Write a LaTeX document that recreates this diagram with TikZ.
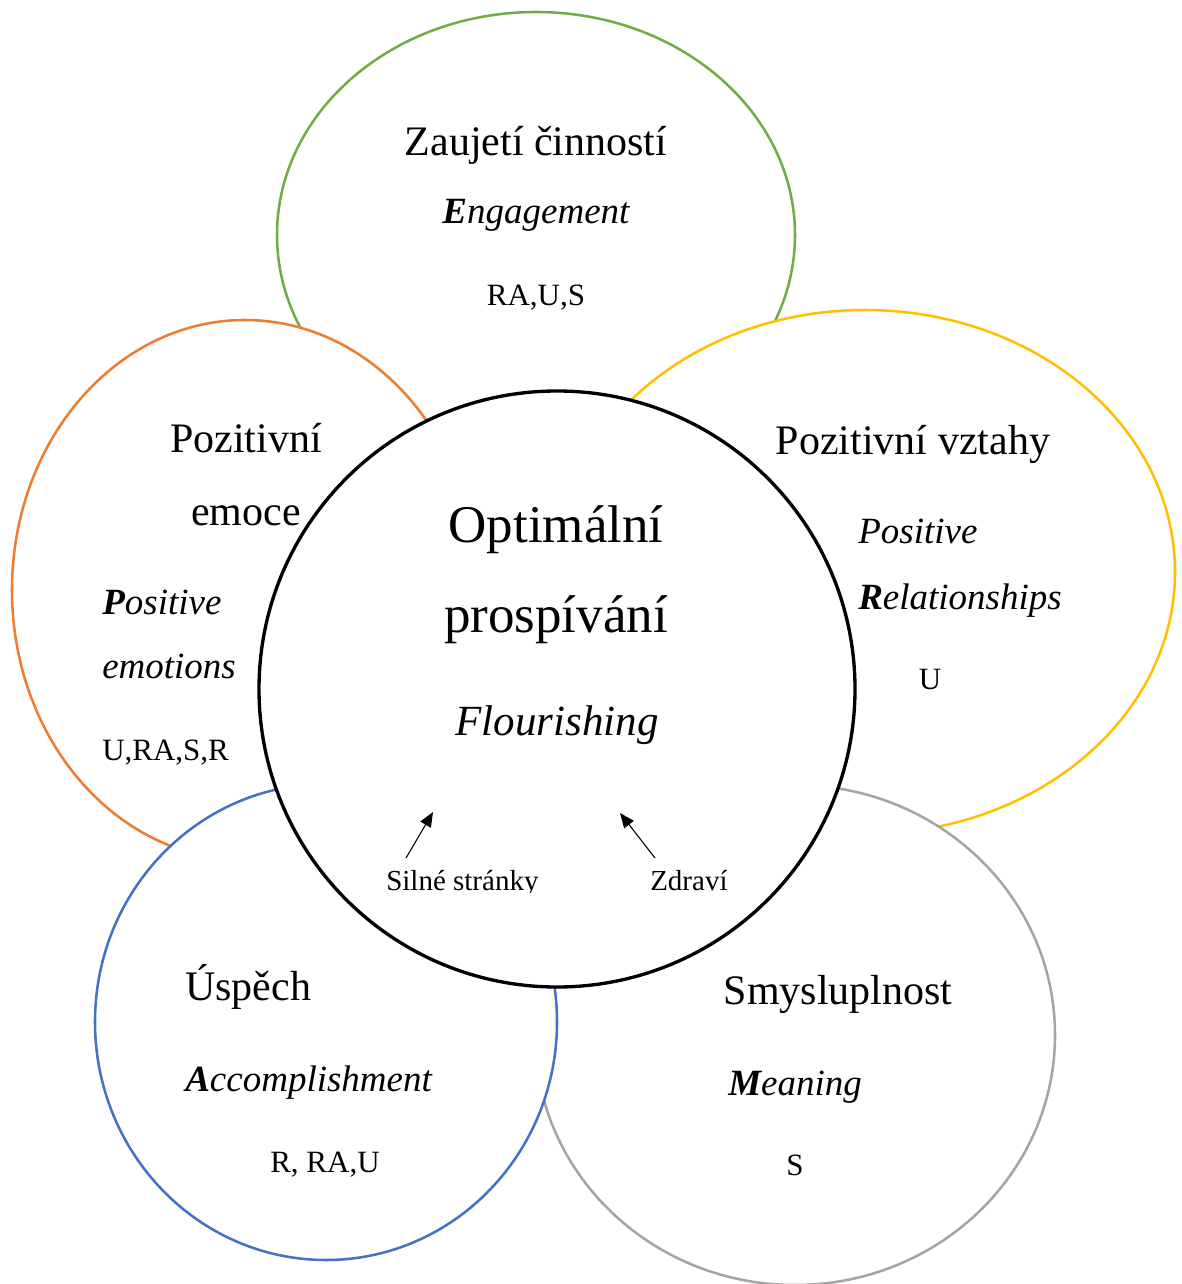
\documentclass[tikz,border=0pt]{standalone}
\usepackage{fontspec}
\setmainfont{Liberation Serif}
\usetikzlibrary{arrows.meta}
\definecolor{cgreen}{HTML}{70AD47}
\definecolor{corange}{HTML}{ED7D31}
\definecolor{cyellow}{HTML}{FFC000}
\definecolor{cgrey}{HTML}{A5A5A5}
\definecolor{cblue}{HTML}{4472C4}
\newcommand{\fsz}[1]{\fontsize{#1pt}{#1pt}\selectfont}
\tikzset{
  petal/.style={line width=1.9pt, fill=white, draw=#1},
  big/.style={inner sep=0pt, font=\fsz{31.5}},
  sub/.style={inner sep=0pt, font=\fsz{27.75}\itshape},
  code/.style={inner sep=0pt, font=\fsz{23.25}},
  centre/.style={inner sep=0pt, font=\fsz{39.75}},
  small/.style={inner sep=0pt, font=\fsz{21.75}},
  pointer/.style={line width=0.8pt, -{Triangle[length=11pt,width=9pt]}}
}
\begin{document}
\begin{tikzpicture}[x=0.75pt,y=-0.75pt]
\useasboundingbox (0,0) rectangle (1181,1284);
% petals in stacking order
\path[petal=cgreen] (536,235) ellipse [x radius=259, y radius=223];
\path[petal=corange] (245,590) ellipse [x radius=233, y radius=270];
\path[petal=cyellow] (865,572) ellipse [x radius=310, y radius=262];
\path[petal=cgrey] (795,1035) ellipse [x radius=260, y radius=250];
\path[petal=cblue] (326,1022) ellipse [x radius=231, y radius=238];
% central circle
\draw[line width=2.5pt, fill=white] (557,689) circle [radius=298];

% Engagement
\node[big, anchor=base] (e1) at (536,156) {Zaujetí činností};
\node[sub, anchor=base] (e2) at (536,223) {\textbf{E}ngagement};
\node[code, anchor=base] (e3) at (536,305) {RA,U,S};

% Positive emotions
\node[big, anchor=base] (p1) at (246,452) {Pozitivní};
\node[big, anchor=base] (p2) at (246,525) {emoce};
\node[sub, anchor=base west] (p3) at (102,614) {\textbf{P}ositive};
\node[sub, anchor=base west] (p4) at (102,678) {emotions};
\node[code, anchor=base west] (p5) at (102,760) {U,RA,S,R};

% Relationships
\node[big, anchor=base] (r1) at (913,454) {Pozitivní vztahy};
\node[sub, anchor=base west] (r2) at (858,543) {Positive};
\node[sub, anchor=base west] (r3) at (858,609) {\textbf{R}elationships};
\node[code, anchor=base] (r4) at (930,689) {U};

% Accomplishment
\node[big, anchor=base west] (a1) at (185,1000) {Úspěch};
\node[sub, anchor=base west] (a2) at (185,1091) {\textbf{A}ccomplishment};
\node[code, anchor=base west] (a3) at (270,1172) {R, RA,U};

% Meaning
\node[big, anchor=base] (m1) at (838,1004) {Smysluplnost};
\node[sub, anchor=base west] (m2) at (728,1095) {\textbf{M}eaning};
\node[code, anchor=base] (m3) at (795,1175) {S};

% Centre
\node[centre, anchor=base] (c1) at (556,542) {Optimální};
\node[centre, anchor=base] (c2) at (556,632) {prospívání};
\node[centre, anchor=base, font=\fsz{32.25}\itshape] (c3) at (557,735) {Flourishing};

\begin{scope}
\clip (300,780) rectangle (800,892);
\node[small, anchor=base west] (s1) at (386,890) {Silné stránky};
\node[small, anchor=base west] (s2) at (650,890) {Zdraví};
\end{scope}
\coordinate (s1from) at (406,858);
\coordinate (s1to) at (433,812);
\coordinate (s2from) at (655,858);
\coordinate (s2to) at (620,813);
\draw[pointer] (s1from) -- (s1to);
\draw[pointer] (s2from) -- (s2to);
\end{tikzpicture}
\end{document}
